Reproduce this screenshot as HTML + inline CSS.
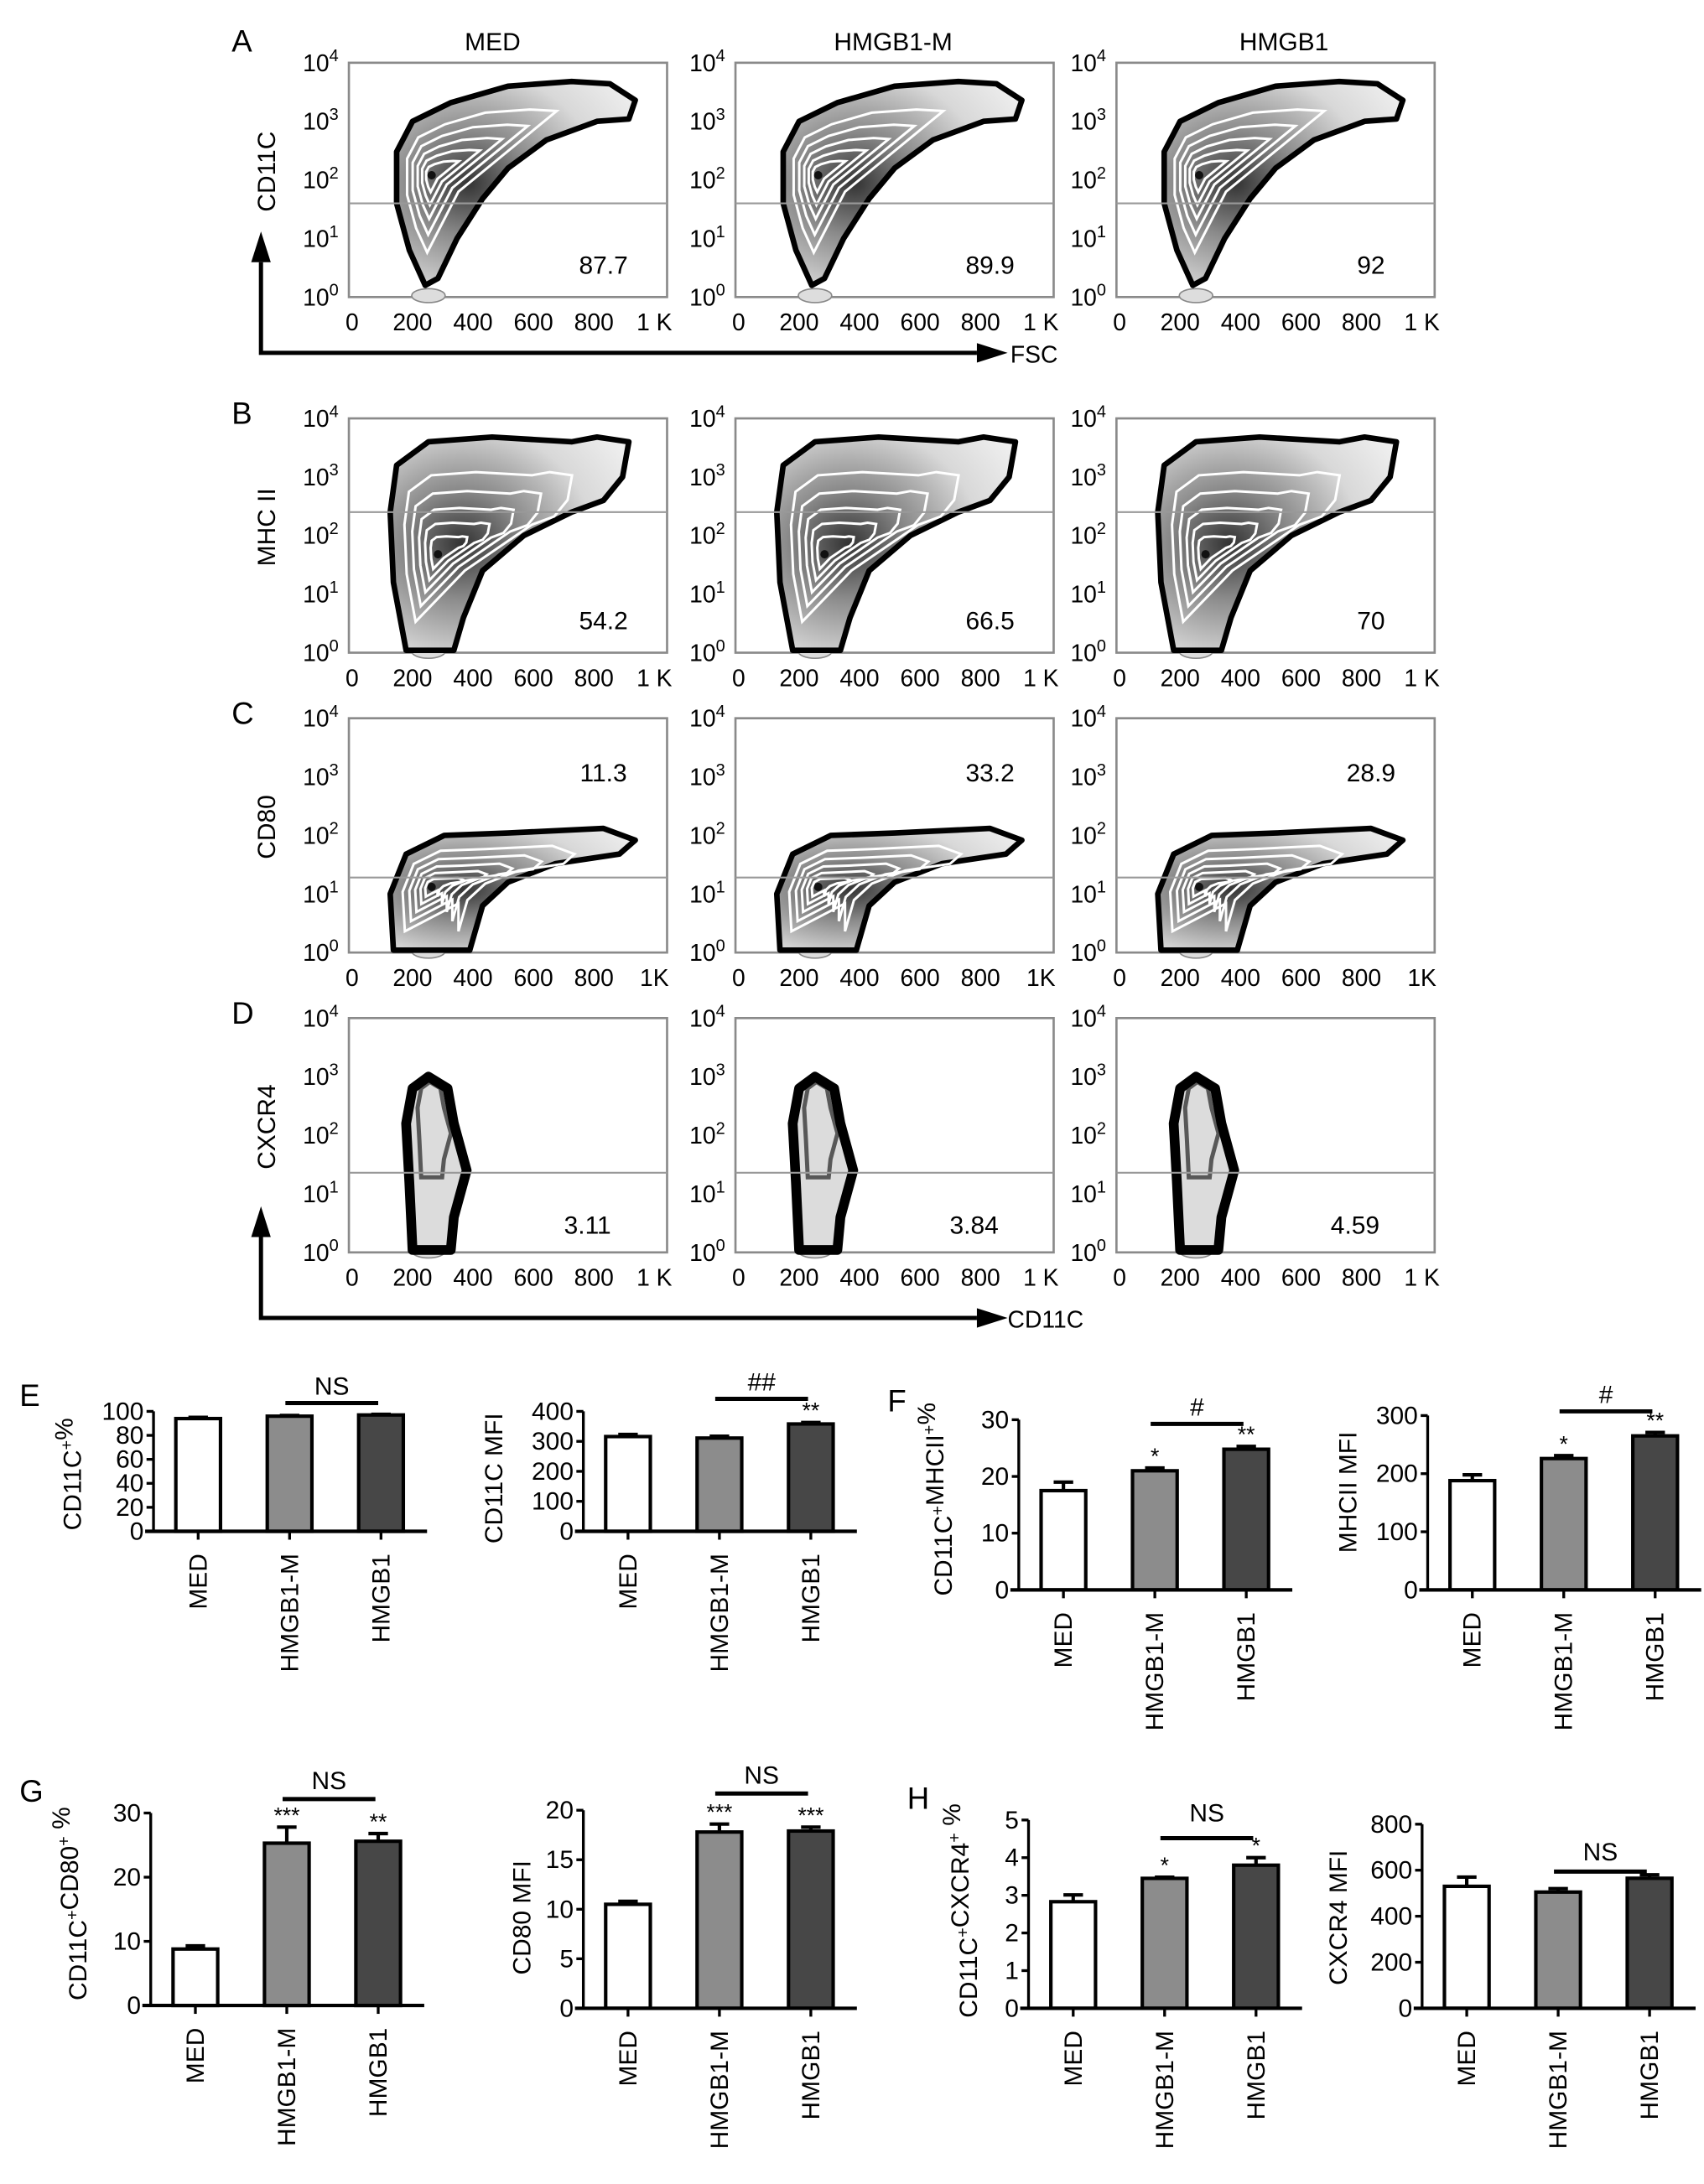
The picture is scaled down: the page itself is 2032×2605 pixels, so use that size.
<!DOCTYPE html>
<html><head><meta charset="utf-8"><title>HMGB1 DC figure</title>
<style>
html,body{margin:0;padding:0;background:#fff;}
svg{display:block;font-family:"Liberation Sans",Arial,sans-serif;}
</style></head>
<body>
<svg id="fig" width="2032" height="2605" viewBox="0 0 1221 1566" preserveAspectRatio="none" xmlns="http://www.w3.org/2000/svg">
<defs>
<radialGradient id="gradDense" cx="0.3" cy="0.5" r="0.85">
<stop offset="0" stop-color="#333"/><stop offset="0.3" stop-color="#8a8a8a"/><stop offset="0.65" stop-color="#d8d8d8"/><stop offset="1" stop-color="#f2f2f2"/>
</radialGradient>
</defs>
</svg>
<script>
// ---------- data ----------
const groups = ["MED", "HMGB1-M", "HMGB1"];
const flowPctA = ["87.7", "89.9", "92"];
const flowPctB = ["54.2", "66.5", "70"];
const flowPctC = ["11.3", "33.2", "28.9"];
const flowPctD = ["3.11", "3.84", "4.59"];
const e1Vals = [94, 96, 97];      const e1Err = [1, 0.6, 0.5];
const e2Vals = [316, 311, 358];   const e2Err = [7, 6, 5];
const f1Vals = [17.5, 21, 24.8];  const f1Err = [1.5, 0.5, 0.5];
const f2Vals = [188, 226, 265];   const f2Err = [10, 5, 6];
const g1Vals = [8.8, 25.3, 25.6]; const g1Err = [0.5, 2.5, 1.2];
const g2Vals = [10.5, 17.8, 17.9];const g2Err = [0.3, 0.8, 0.4];
const h1Vals = [2.83, 3.45, 3.8]; const h1Err = [0.18, 0.03, 0.2];
const h2Vals = [530, 505, 565];   const h2Err = [40, 15, 15];
const e1Ticks = [0, 20, 40, 60, 80, 100];
const e2Ticks = [0, 100, 200, 300, 400];
const f1Ticks = [0, 10, 20, 30];
const f2Ticks = [0, 100, 200, 300];
const g1Ticks = [0, 10, 20, 30];
const g2Ticks = [0, 5, 10, 15, 20];
const h1Ticks = [0, 1, 2, 3, 4, 5];
const h2Ticks = [0, 200, 400, 600, 800];
const e1Stars = ["", "", ""];   const e2Stars = ["", "", "**"];
const f1Stars = ["", "*", "**"]; const f2Stars = ["", "*", "**"];
const g1Stars = ["", "***", "**"]; const g2Stars = ["", "***", "***"];
const h1Stars = ["", "*", "*"];  const h2Stars = ["", "", ""];

const NS = "http://www.w3.org/2000/svg";
const svg = document.getElementById("fig");
function el(tag, attrs, parent) {
  const e = document.createElementNS(NS, tag);
  for (const k in attrs) e.setAttribute(k, attrs[k]);
  (parent || svg).appendChild(e);
  return e;
}
function txt(s, attrs, parent) { const t = el("text", attrs, parent); t.textContent = s; return t; }

// ---------- flow cytometry panels ----------
const colLefts = [250, 527, 800];
const boxW = 228, boxH = 168;
const rows = [
  {top: 45, letter: "A", ylab: "CD11C", gate: 0.6, pct: flowPctA, px: 0.8, py: 0.9, k: "1 K", kind: "a"},
  {top: 300, letter: "B", ylab: "MHC II", gate: 0.4, pct: flowPctB, px: 0.8, py: 0.9, k: "1 K", kind: "b"},
  {top: 515, letter: "C", ylab: "CD80", gate: 0.68, pct: flowPctC, px: 0.8, py: 0.27, k: "1K", kind: "c"},
  {top: 730, letter: "D", ylab: "CXCR4", gate: 0.66, pct: flowPctD, px: 0.75, py: 0.92, k: "1 K", kind: "d"}
];
const shapes = {
  a: [[0.24,0.95],[0.19,0.8],[0.15,0.6],[0.15,0.38],[0.2,0.25],[0.32,0.17],[0.5,0.1],[0.7,0.08],[0.82,0.09],[0.9,0.16],[0.88,0.24],[0.78,0.25],[0.62,0.33],[0.5,0.45],[0.42,0.58],[0.34,0.75],[0.28,0.92]],
  b: [[0.18,0.99],[0.14,0.7],[0.13,0.4],[0.15,0.2],[0.25,0.1],[0.45,0.08],[0.7,0.1],[0.78,0.08],[0.88,0.1],[0.86,0.25],[0.8,0.35],[0.7,0.4],[0.55,0.5],[0.42,0.65],[0.36,0.85],[0.33,0.99]],
  c: [[0.14,0.99],[0.13,0.75],[0.18,0.58],[0.3,0.5],[0.5,0.49],[0.8,0.47],[0.9,0.52],[0.85,0.58],[0.65,0.62],[0.5,0.7],[0.42,0.8],[0.38,0.99]],
  d: [[0.2,0.99],[0.19,0.7],[0.18,0.45],[0.2,0.3],[0.25,0.25],[0.31,0.3],[0.33,0.45],[0.37,0.65],[0.33,0.85],[0.32,0.99]]
};
const centers = {a:[0.26,0.48], b:[0.28,0.58], c:[0.26,0.72], d:[0.26,0.6]};
function polyPath(pts, bx, by, c, s) {
  return pts.map((p, i) => {
    const x = bx + (c[0] + (p[0] - c[0]) * s) * boxW;
    const y = by + (c[1] + (p[1] - c[1]) * s) * boxH;
    return (i ? "L" : "M") + x.toFixed(1) + "," + y.toFixed(1);
  }).join("") + "Z";
}
const titles = ["MED", "HMGB1-M", "HMGB1"];
const titleX = [353, 640, 920];
titles.forEach((t, i) => {
  const e = txt(t, {x: titleX[i], y: 36, "font-size": 18, "text-anchor": "middle"});
  
  
});
rows.forEach((r, ri) => {
  const L = txt(r.letter, {x: 166, y: r.top - 8 + (ri === 0 ? 0 : 12), "font-size": 22});
  
  
  const yl = txt(r.ylab, {x: 0, y: 0, "font-size": 18, "text-anchor": "middle", transform: `translate(197,${r.top + 78}) rotate(-90)`});
  
  
  colLefts.forEach((bx, ci) => {
    const by = r.top;
    const g = el("g", {});
    
    
    el("rect", {x: bx, y: by, width: boxW, height: boxH, fill: "#fff", stroke: "#8a8a8a", "stroke-width": 1.6}, g);
    el("ellipse", {cx: bx + 0.25 * boxW, cy: by + boxH - 1, rx: 12, ry: 5, fill: "#ddd", stroke: "#888", "stroke-width": 1}, g);
    const pts = shapes[r.kind], c = centers[r.kind];
    if (r.kind === "d") {
      el("path", {d: polyPath(pts, bx, by, c, 1), fill: "#dcdcdc", stroke: "#000", "stroke-width": 7, "stroke-linejoin": "round"}, g);
      el("path", {d: polyPath(pts, bx, by, [c[0], 0.3], 0.55), fill: "none", stroke: "#000", "stroke-width": 3, opacity: 0.6}, g);
    } else {
      el("path", {d: polyPath(pts, bx, by, c, 1), fill: "url(#gradDense)", stroke: "#000", "stroke-width": 4, "stroke-linejoin": "round"}, g);
      [0.78, 0.6, 0.44, 0.3, 0.17].forEach(s => {
        el("path", {d: polyPath(pts.slice(0, r.kind === "a" ? 9 : 12).concat([[c[0] + 0.12, c[1] + 0.1]]), bx, by, c, s * 0.9), fill: "none", stroke: "#fff", "stroke-width": 1.8}, g);
      });
      el("circle", {cx: bx + c[0] * boxW, cy: by + c[1] * boxH, r: 3, fill: "#111"}, g);
    }
    el("line", {x1: bx, x2: bx + boxW, y1: by + r.gate * boxH, y2: by + r.gate * boxH, stroke: "#999", "stroke-width": 1.3}, g);
    const p = txt(r.pct[ci], {x: bx + r.px * boxW, y: by + r.py * boxH, "font-size": 18, "text-anchor": "middle"}, g);
    
    
    for (let k = 0; k <= 4; k++) {
      const t = el("text", {x: bx - 33, y: by + boxH - k * boxH / 4 + 6, "font-size": 17}, g);
      t.textContent = "10";
      const sup = el("tspan", {dy: -7, "font-size": 12}, t);
      sup.textContent = String(k);
      
      
    }
    const xl = ["0", "200", "400", "600", "800", r.k];
    xl.forEach((s, k) => {
      const t = txt(s, {x: bx + (0.01 + k * 0.19) * boxW, y: by + boxH + 24, "font-size": 17, "text-anchor": "middle"}, g);
      
      
    });
  });
});
function arrows(yTop, yLine, label, lx) {
  const g = el("g", {});
  
  
  el("polyline", {points: `187,${yTop} 187,${yLine} 700,${yLine}`, fill: "none", stroke: "#000", "stroke-width": 3}, g);
  el("polygon", {points: `180,${yTop} 194,${yTop} 187,${yTop - 22}`, fill: "#000"}, g);
  el("polygon", {points: `700,${yLine - 7} 700,${yLine + 7} 722,${yLine}`, fill: "#000"}, g);
  txt(label, {x: lx, y: yLine + 7, "font-size": 17}, g);
}
arrows(188, 253, "FSC", 724);
arrows(887, 945, "CD11C", 722);

// ---------- bar charts ----------
const fills = ["#ffffff", "#8c8c8c", "#474747"];
function barChart(cfg) {
  const g = el("g", {});
  
  
  const max = cfg.ticks[cfg.ticks.length - 1];
  const yS = v => cfg.y0 - (v / max) * (cfg.y0 - cfg.yTop);
  const xS = i => cfg.ax + 32 + i * 65.5;
  cfg.vals.forEach((v, i) => {
    const b = el("rect", {x: xS(i) - 16, y: yS(v), width: 32, height: cfg.y0 - yS(v), fill: fills[i], stroke: "#000", "stroke-width": 2.5}, g);
    
    
    const top = yS(v + cfg.errs[i]);
    const eb = el("path", {d: `M${xS(i)},${yS(v)}V${top}M${xS(i) - 7},${top}H${xS(i) + 7}`, stroke: "#000", "stroke-width": 2.5, fill: "none"}, g);
    
    
    if (cfg.stars[i]) {
      const s = txt(cfg.stars[i], {x: xS(i), y: top - 3, "font-size": 16, "text-anchor": "middle"}, g);
      
      
    }
    const c = txt(groups[i], {x: 0, y: 0, "font-size": 18, "text-anchor": "end", transform: `translate(${xS(i) + 6},${cfg.y0 + 16}) rotate(-90)`}, g);
    
    
    el("line", {x1: xS(i), x2: xS(i), y1: cfg.y0, y2: cfg.y0 + 6, stroke: "#000", "stroke-width": 2}, g);
  });
  el("line", {x1: cfg.ax, x2: cfg.ax, y1: cfg.yTop, y2: cfg.y0, stroke: "#000", "stroke-width": 2}, g);
  el("line", {x1: cfg.ax - 6, x2: cfg.ax + 196, y1: cfg.y0, y2: cfg.y0, stroke: "#000", "stroke-width": 2.5}, g);
  cfg.ticks.forEach(t => {
    el("line", {x1: cfg.ax - 5, x2: cfg.ax, y1: yS(t), y2: yS(t), stroke: "#000", "stroke-width": 2}, g);
    const l = txt(String(t), {x: cfg.ax - 7, y: yS(t) + 6, "font-size": 18, "text-anchor": "end"}, g);
    
    
  });
  const yt = el("text", {x: 0, y: 0, "font-size": 18, "text-anchor": "middle", transform: `translate(${cfg.tx},${cfg.ty}) rotate(-90)`}, g);
  cfg.title.forEach(part => {
    const s = el("tspan", part[1] ? {dy: -6, "font-size": 12} : {}, yt);
    s.textContent = part[0];
    if (part[1]) { const back = el("tspan", {dy: 6, "font-size": 18}, yt); back.textContent = ""; }
  });
  
  
  if (cfg.sig) {
    const x1 = xS(cfg.sig[0]) - 3, x2 = xS(cfg.sig[1]) - 2;
    el("line", {x1: x1, x2: x2, y1: cfg.sigY, y2: cfg.sigY, stroke: "#000", "stroke-width": 3}, g);
    const s = txt(cfg.sig[2], {x: (x1 + x2) / 2, y: cfg.sigY - cfg.sigGap, "font-size": 18, "text-anchor": "middle"}, g);
    
    
  }
}
barChart({name: "chart-e-cd11c-percent", ax: 110, y0: 1098, yTop: 1012, ticks: e1Ticks, vals: e1Vals, errs: e1Err, stars: e1Stars, title: [["CD11C"], ["+", 1], ["%"]], tx: 58, ty: 1057, sig: [1, 2, "NS"], sigY: 1006, sigGap: 6});
barChart({name: "chart-e-cd11c-mfi", ax: 418, y0: 1098, yTop: 1012, ticks: e2Ticks, vals: e2Vals, errs: e2Err, stars: e2Stars, title: [["CD11C MFI"]], tx: 360, ty: 1060, sig: [1, 2, "##"], sigY: 1003, sigGap: 6});
barChart({name: "chart-f-mhcii-percent", ax: 730, y0: 1140, yTop: 1018, ticks: f1Ticks, vals: f1Vals, errs: f1Err, stars: f1Stars, title: [["CD11C"], ["+", 1], ["MHCII"], ["+", 1], ["%"]], tx: 682, ty: 1075, sig: [1, 2, "#"], sigY: 1021, sigGap: 6});
barChart({name: "chart-f-mhcii-mfi", ax: 1023, y0: 1140, yTop: 1015, ticks: f2Ticks, vals: f2Vals, errs: f2Err, stars: f2Stars, title: [["MHCII MFI"]], tx: 972, ty: 1070, sig: [1, 2, "#"], sigY: 1012, sigGap: 6});
barChart({name: "chart-g-cd80-percent", ax: 108, y0: 1438, yTop: 1300, ticks: g1Ticks, vals: g1Vals, errs: g1Err, stars: g1Stars, title: [["CD11C"], ["+", 1], ["CD80"], ["+", 1], [" %"]], tx: 62, ty: 1365, sig: [1, 2, "NS"], sigY: 1290, sigGap: 7});
barChart({name: "chart-g-cd80-mfi", ax: 418, y0: 1440, yTop: 1298, ticks: g2Ticks, vals: g2Vals, errs: g2Err, stars: g2Stars, title: [["CD80 MFI"]], tx: 380, ty: 1375, sig: [1, 2, "NS"], sigY: 1286, sigGap: 7});
barChart({name: "chart-h-cxcr4-percent", ax: 737, y0: 1440, yTop: 1305, ticks: h1Ticks, vals: h1Vals, errs: h1Err, stars: h1Stars, title: [["CD11C"], ["+", 1], ["CXCR4"], ["+", 1], [" %"]], tx: 700, ty: 1370, sig: [1, 2, "NS"], sigY: 1318, sigGap: 12});
barChart({name: "chart-h-cxcr4-mfi", ax: 1019, y0: 1440, yTop: 1308, ticks: h2Ticks, vals: h2Vals, errs: h2Err, stars: h2Stars, title: [["CXCR4 MFI"]], tx: 965, ty: 1375, sig: [1, 2, "NS"], sigY: 1342, sigGap: 8});
[["E", 14, 1008], ["F", 636, 1012], ["G", 14, 1292], ["H", 650, 1297]].forEach(p => {
  const t = txt(p[0], {x: p[1], y: p[2], "font-size": 22});
  
  
});
</script>
</body></html>
